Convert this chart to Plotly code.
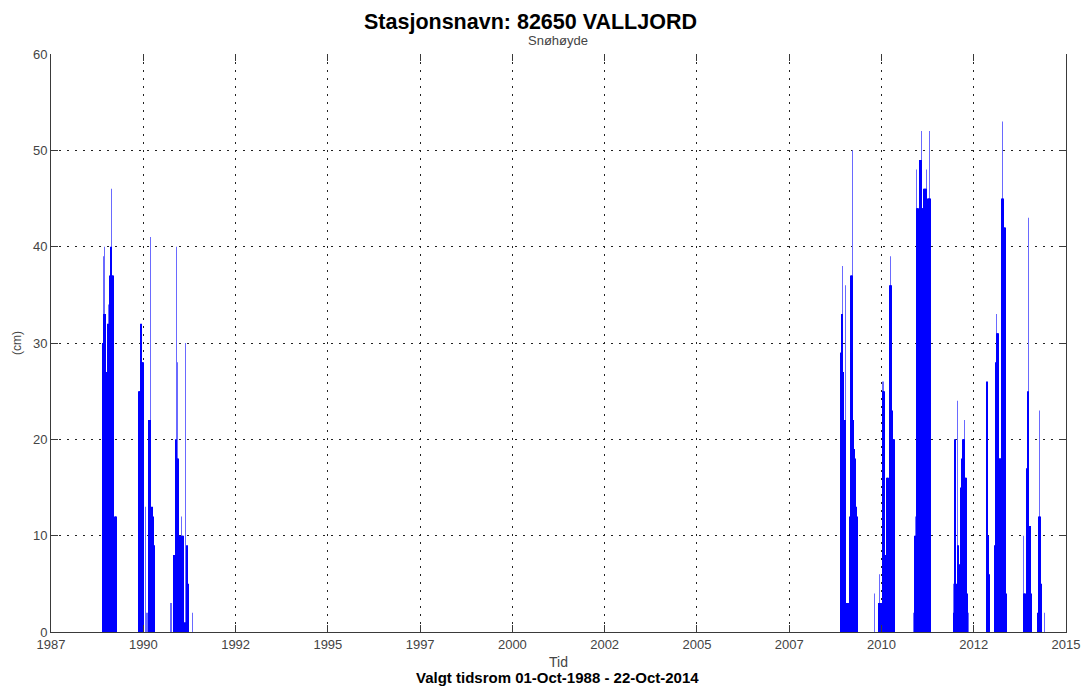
import plotly.graph_objects as go

# Daily snow depth (cm) at 82650 VALLJORD, one list per winter season.
# Main series: the bulk of each season's record.
s1988_89 = [("1988-12-02", 30), ("1988-12-12", 33), ("1988-12-22", 33), ("1988-12-31", 27),
            ("1989-01-10", 6), ("1989-01-20", 32), ("1989-01-30", 13), ("1989-02-09", 37),
            ("1989-02-19", 40), ("1989-03-01", 37), ("1989-03-11", 37), ("1989-03-20", 8),
            ("1989-03-30", 12), ("1989-04-08", 12)]
s1989_90 = [("1989-11-23", 25), ("1989-12-03", 25), ("1989-12-13", 32), ("1989-12-22", 28),
            ("1990-01-01", 28), ("1990-03-02", 22), ("1990-03-12", 22), ("1990-03-21", 8),
            ("1990-03-31", 13), ("1990-04-10", 12), ("1990-04-20", 9)]
s1990_91 = [("1990-11-04", 8), ("1990-11-17", 20), ("1990-11-27", 18), ("1990-12-07", 18),
            ("1990-12-17", 10), ("1990-12-30", 10), ("1991-01-12", 6), ("1991-01-22", 10),
            ("1991-02-01", 10), ("1991-02-10", 1), ("1991-02-24", 1), ("1991-03-09", 9),
            ("1991-03-19", 5)]
s2008_09 = [("2008-11-22", 29), ("2008-12-01", 29), ("2008-12-11", 33), ("2008-12-21", 27),
            ("2008-12-31", 22), ("2009-01-10", 3), ("2009-01-20", 3), ("2009-01-30", 3),
            ("2009-02-09", 3), ("2009-02-19", 12), ("2009-03-01", 37), ("2009-03-11", 37),
            ("2009-03-21", 22), ("2009-03-31", 19), ("2009-04-10", 18), ("2009-04-20", 13),
            ("2009-04-30", 12)]
s2009_10 = [("2009-12-11", 3), ("2009-12-21", 3), ("2010-01-04", 3), ("2010-01-17", 25),
            ("2010-01-27", 25), ("2010-02-07", 8), ("2010-02-17", 8), ("2010-02-27", 16),
            ("2010-03-09", 16), ("2010-03-19", 15), ("2010-03-29", 36), ("2010-04-03", 36),
            ("2010-04-12", 23), ("2010-04-22", 20), ("2010-04-30", 20)]
s2010_11 = [("2010-12-01", 10), ("2010-12-09", 10), ("2010-12-18", 44), ("2010-12-28", 44),
            ("2011-01-07", 43), ("2011-01-12", 28), ("2011-01-17", 49), ("2011-01-28", 49),
            ("2011-02-07", 44), ("2011-02-16", 44), ("2011-02-23", 35), ("2011-02-26", 46),
            ("2011-03-08", 46), ("2011-03-15", 46), ("2011-03-22", 31), ("2011-03-29", 29),
            ("2011-04-05", 45), ("2011-04-14", 45), ("2011-04-24", 45), ("2011-05-01", 10)]
s2011_12 = [("2011-12-24", 2), ("2012-01-03", 20), ("2012-01-14", 5), ("2012-01-24", 9),
            ("2012-02-03", 7), ("2012-02-12", 7), ("2012-02-26", 15), ("2012-03-07", 18),
            ("2012-03-17", 20), ("2012-03-27", 20), ("2012-04-06", 16), ("2012-04-16", 16),
            ("2012-04-27", 4)]
s2012_13 = [("2012-11-09", 26), ("2012-11-19", 10), ("2012-12-01", 6), ("2013-01-26", 9),
            ("2013-02-05", 28), ("2013-02-18", 31), ("2013-02-28", 31), ("2013-03-07", 18),
            ("2013-03-14", 18), ("2013-03-24", 18), ("2013-04-06", 45), ("2013-04-16", 45),
            ("2013-04-26", 42), ("2013-05-06", 42), ("2013-05-16", 4)]
s2013_14 = [("2013-11-09", 4), ("2013-11-23", 4), ("2013-12-10", 17), ("2013-12-20", 25),
            ("2014-01-03", 11), ("2014-01-13", 11), ("2014-01-23", 4), ("2014-03-31", 2),
            ("2014-04-10", 12), ("2014-04-20", 12), ("2014-04-30", 5)]

# Single-day peaks standing out above the season record.
peaks = [("1988-12-03", 39), ("1988-12-15", 40), ("1989-01-23", 34), ("1989-02-20", 46),
         ("1990-01-21", 13), ("1990-02-06", 2), ("1990-03-13", 41),
         ("1990-10-02", 3), ("1990-11-27", 40), ("1990-12-09", 28), ("1991-01-12", 12),
         ("1991-02-20", 30), ("1991-04-28", 2),
         ("2008-12-08", 38), ("2009-01-13", 36), ("2009-03-16", 50),
         ("2009-10-25", 4), ("2009-12-15", 6), ("2010-01-16", 26), ("2010-04-01", 39),
         ("2010-05-10", 4),
         ("2010-11-17", 2), ("2010-12-07", 12), ("2010-12-17", 48), ("2011-01-30", 52),
         ("2011-03-20", 48), ("2011-04-18", 52),
         ("2011-12-20", 5), ("2012-01-24", 24), ("2012-03-30", 22), ("2012-05-13", 2),
         ("2013-02-15", 33), ("2013-03-31", 23), ("2013-04-12", 53),
         ("2013-11-08", 10), ("2013-12-26", 43), ("2014-04-10", 23), ("2014-06-02", 2)]

seasons = [s1988_89, s1989_90, s1990_91, s2008_09, s2009_10,
           s2010_11, s2011_12, s2012_13, s2013_14]

# Time axis ticks (2.5-year spacing) and their year labels
tick_dates = ["1987-07-02", "1990-01-01", "1992-07-02", "1995-01-01", "1997-07-02",
              "2000-01-01", "2002-07-02", "2005-01-01", "2007-07-02", "2010-01-01",
              "2012-07-01", "2015-01-01"]
tick_labels = ["1987", "1990", "1992", "1995", "1997", "2000", "2002", "2005",
               "2007", "2010", "2012", "2015"]
y_ticks = [0, 10, 20, 30, 40, 50, 60]

main_x = [d for s in seasons for d, _ in s]
main_y = [v for s in seasons for _, v in s]
peak_x = [d for d, _ in peaks]
peak_y = [v for _, v in peaks]

DAY_MS = 86400000
FONT = "Liberation Sans, Arial, Helvetica, sans-serif"
AX = "#3a3a3a"

# Figure geometry (pixels) used to place the free text around the axes
W, H = 1082, 688
ML, MR, MT, MB = 51, 16, 54, 56
PW, PH = W - ML - MR, H - MT - MB


def px(xp):
    return (xp - ML) / PW


def py(yp):
    return (H - MB - yp) / PH


fig = go.Figure()
fig.add_trace(go.Bar(x=peak_x, y=peak_y, width=DAY_MS,
                     marker=dict(color="#6a6aff", line=dict(width=0)),
                     showlegend=False, hoverinfo="x+y"))
fig.add_trace(go.Bar(x=main_x, y=main_y, width=10 * DAY_MS,
                     marker=dict(color="#0000ff", line=dict(width=0)),
                     showlegend=False, hoverinfo="x+y"))
# Empty trace to carry the top tick axis
fig.add_trace(go.Scatter(x=[], y=[], xaxis="x2", showlegend=False, hoverinfo="skip"))

tickfont = dict(family=FONT, size=13, color="#444444")
grid = dict(showgrid=True, gridcolor="#222222", gridwidth=1, griddash="2px,6px")

fig.update_layout(
    width=W, height=H,
    margin=dict(l=ML, r=MR, t=MT, b=MB, autoexpand=False),
    paper_bgcolor="white", plot_bgcolor="white",
    barmode="overlay",
    font=dict(family=FONT),
    xaxis=dict(type="date", range=[tick_dates[0], tick_dates[-1]],
               tickmode="array", tickvals=tick_dates, ticktext=tick_labels,
               ticks="inside", ticklen=7, tickcolor=AX,
               showline=True, linecolor=AX, linewidth=1, mirror=False,
               zeroline=False, tickfont=tickfont, **grid),
    xaxis2=dict(type="date", overlaying="x", side="top", matches="x",
                tickmode="array", tickvals=tick_dates,
                ticks="inside", ticklen=7, tickcolor=AX,
                showticklabels=False, showline=False, showgrid=False, zeroline=False),
    yaxis=dict(range=[0, 60], tickmode="array", tickvals=y_ticks,
               ticks="inside", ticklen=7, tickcolor=AX,
               showline=True, linecolor=AX, linewidth=1, mirror="ticks",
               zeroline=False, tickfont=tickfont, **grid),
    annotations=[
        dict(text="<b>Stasjonsnavn: 82650 VALLJORD</b>", xref="paper", yref="paper",
             x=px(530), y=py(22), xanchor="center", yanchor="middle",
             showarrow=False, font=dict(family=FONT, size=21.5, color="black")),
        dict(text="Snøhøyde", xref="paper", yref="paper",
             x=px(558), y=py(41), xanchor="center", yanchor="middle",
             showarrow=False, font=dict(family=FONT, size=13, color="#444444")),
        dict(text="Tid", xref="paper", yref="paper",
             x=px(558), y=py(662), xanchor="center", yanchor="middle",
             showarrow=False, font=dict(family=FONT, size=14, color="#444444")),
        dict(text="<b>Valgt tidsrom 01-Oct-1988 - 22-Oct-2014</b>", xref="paper", yref="paper",
             x=px(557), y=py(677), xanchor="center", yanchor="middle",
             showarrow=False, font=dict(family=FONT, size=15, color="black")),
        dict(text="(cm)", xref="paper", yref="paper",
             x=px(17), y=0.5, xanchor="center", yanchor="middle",
             textangle=-90, showarrow=False,
             font=dict(family=FONT, size=12, color="#444444")),
    ],
)

fig.write_html("out.html")
